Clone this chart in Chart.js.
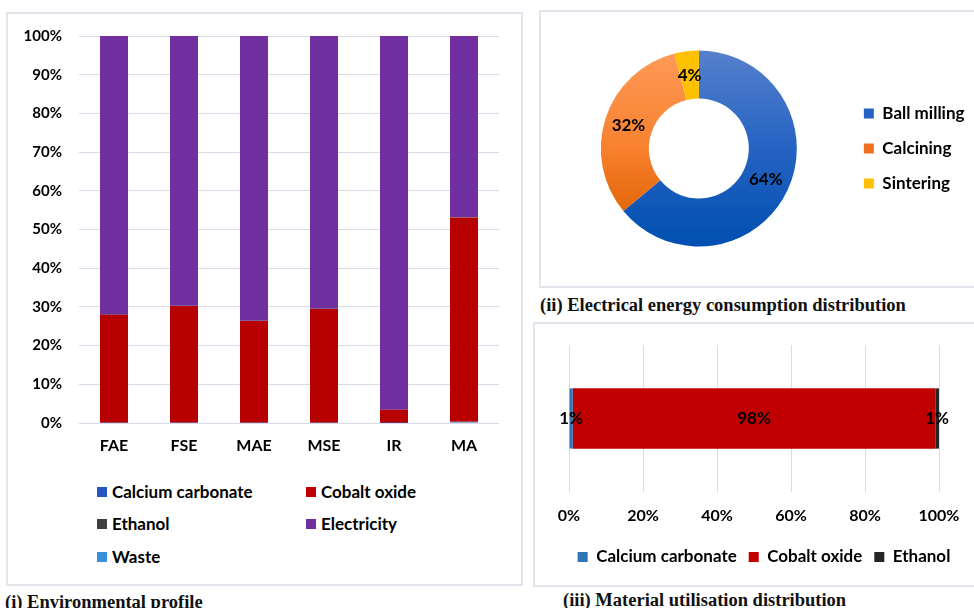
<!DOCTYPE html>
<html>
<head>
<meta charset="utf-8">
<script src="https://cdn.jsdelivr.net/npm/chart.js@4.4.1/dist/chart.umd.min.js"></script>
<style>
  html, body { margin: 0; padding: 0; background: #fff; }
  body { width: 974px; height: 608px; position: relative; overflow: hidden; font-family: Lato, sans-serif; }
  .panel { position: absolute; border: 2px solid #e2e5eb; box-sizing: border-box; }
  canvas { position: absolute; }
  .cap { position: absolute; font-family: 'Liberation Serif', serif; font-weight: bold; font-size: 18.5px;
         color: #111; white-space: nowrap; line-height: 20px; }
  .lg { position: absolute; display: flex; align-items: center; height: 20px; line-height: 20px;
        font-weight: bold; font-size: 17px; color: #000; white-space: nowrap; }
  .lg i { display: inline-block; width: 10px; height: 10px; margin-right: 5px; }
</style>
</head>
<body>
<div class="panel" style="left:6px;top:12px;width:517px;height:574px;"></div>
<div class="panel" style="left:539px;top:10px;width:460px;height:278px;"></div>
<div class="panel" style="left:533px;top:322px;width:460px;height:265px;"></div>

<canvas id="env" width="513" height="464" style="left:8px;top:10px;"></canvas>
<div id="envLegend"></div>
<canvas id="energy" width="439" height="273" style="left:541px;top:12px;"></canvas>
<canvas id="mat" width="439" height="261" style="left:535px;top:324px;"></canvas>

<div class="cap" style="left:5px;top:592px;">(i) Environmental profile</div>
<div class="cap" style="left:540px;top:295px;">(ii) Electrical energy consumption distribution</div>
<div class="cap" style="left:563px;top:590px;">(iii) Material utilisation distribution</div>

<script>
// ---- (i) Environmental profile: share of impact per scenario ----
const envCategories = ['FAE', 'FSE', 'MAE', 'MSE', 'IR', 'MA'];
const envCalciumCarbonate = [0.05, 0.05, 0.05, 0.05, 0.02, 0.3];
const envCobaltOxide = [27.9, 30.2, 26.3, 29.4, 3.4, 52.8];
const envEthanol = [0.05, 0.05, 0.05, 0.05, 0.02, 0.1];
const envElectricity = [72.0, 69.7, 73.6, 70.5, 96.56, 46.8];
const envWaste = [0, 0, 0, 0, 0, 0];
const envSeriesNames = ['Calcium carbonate', 'Cobalt oxide', 'Ethanol', 'Electricity', 'Waste'];
const envColors = ['#2458c0', '#b70000', '#404040', '#7030a0', '#3a8fdc'];
const envLegendColors = ['#2458c0', '#c00000', '#404040', '#7030a0', '#3a8fdc'];
const envTickStep = 10;

// ---- (ii) Electrical energy consumption per process step ----
const energyStages = ['Ball milling', 'Calcining', 'Sintering'];
const energyShares = [64, 32, 4];
const energyKeyColors = ['#2563c2', '#f07020', '#ffc000'];

// ---- (iii) Material utilisation ----
const materialNames = ['Calcium carbonate', 'Cobalt oxide', 'Ethanol'];
const materialShares = [1, 98, 1];
const materialColors = ['#2e75b6', '#c00000', '#262626'];
const materialTickStep = 20;

Chart.defaults.font.family = 'Lato, sans-serif';
Chart.defaults.font.weight = 'bold';
Chart.defaults.color = '#000';

const pct = v => v + '%';

// Stacked columns
new Chart(document.getElementById('env'), {
  type: 'bar',
  data: {
    labels: envCategories,
    datasets: [envCalciumCarbonate, envCobaltOxide, envEthanol, envElectricity, envWaste].map((d, i) => ({
      label: envSeriesNames[i], data: d, backgroundColor: envColors[i], borderWidth: 0
    }))
  },
  options: {
    responsive: false, animation: false,
    layout: { padding: { left: 16, right: 22, top: 0, bottom: 11 } },
    datasets: { bar: { categoryPercentage: 0.8, barPercentage: 0.5 } },
    plugins: { legend: { display: false }, tooltip: { enabled: false } },
    scales: {
      x: {
        stacked: true,
        grid: { display: false }, border: { display: false },
        ticks: { padding: 5, color: '#000', font: { size: 16, weight: 'bold' } },
        afterFit: s => { s.height = 40; }
      },
      y: {
        stacked: true, min: 0, max: 100,
        ticks: { stepSize: envTickStep, callback: pct, padding: 17, color: '#000', font: { size: 15, weight: 'bold' } },
        grid: { color: '#d9dbe8', drawTicks: false }, border: { display: false },
        afterFit: s => { s.width = 55; }
      }
    }
  }
});

// Two-column legend under the stacked columns
const envLegend = document.getElementById('envLegend');
envSeriesNames.forEach((name, i) => {
  const el = document.createElement('div');
  el.className = 'lg';
  el.style.left = (97 + (i % 2) * 209) + 'px';
  el.style.top = (481.5 + Math.floor(i / 2) * 32.5) + 'px';
  el.innerHTML = '<i style="background:' + envLegendColors[i] + '"></i>' + name;
  envLegend.appendChild(el);
});

// Value labels at the middle of each doughnut segment
const arcValueLabels = {
  id: 'arcValueLabels',
  afterDatasetsDraw(chart) {
    const ctx = chart.ctx;
    const meta = chart.getDatasetMeta(0);
    ctx.save();
    ctx.font = 'bold 17px Lato, sans-serif';
    ctx.fillStyle = '#000';
    ctx.textAlign = 'center';
    ctx.textBaseline = 'middle';
    meta.data.forEach((arc, i) => {
      const p = arc.tooltipPosition();
      ctx.fillText(pct(chart.data.datasets[0].data[i]), p.x, p.y);
    });
    ctx.restore();
  }
};

// Vertical shading for the doughnut slices
const energyGradientStops = [
  [[0, '#5580cc'], [0.5, '#2563c2'], [1, '#004fb0']],
  [[0, '#ff9a58'], [0.5, '#f7812e'], [0.85, '#e26406'], [1, '#de5f00']],
  null
];
function energyFill(c) {
  const i = c.dataIndex;
  const stops = energyGradientStops[i];
  const area = c.chart.chartArea;
  if (!stops || !area) return energyKeyColors[i];
  const g = c.chart.ctx.createLinearGradient(0, area.top, 0, area.bottom);
  stops.forEach(s => g.addColorStop(s[0], s[1]));
  return g;
}

new Chart(document.getElementById('energy'), {
  type: 'doughnut',
  data: {
    labels: energyStages,
    datasets: [{ data: energyShares, backgroundColor: energyFill, borderWidth: 0 }]
  },
  options: {
    responsive: false, animation: false, cutout: '51%',
    layout: { padding: { left: 10.8, right: 5.5, top: 38.5, bottom: 38.5 } },
    plugins: {
      legend: {
        position: 'right',
        labels: {
          boxWidth: 10, boxHeight: 10, padding: 18, color: '#000', font: { size: 17, weight: 'bold' },
          generateLabels: (chart) => chart.data.labels.map((t, i) => ({
            text: t, fillStyle: energyKeyColors[i], strokeStyle: 'rgba(0,0,0,0)', lineWidth: 0, index: i
          }))
        }
      },
      tooltip: { enabled: false }
    }
  },
  plugins: [arcValueLabels]
});

// Value labels centred on each stacked segment
const barValueLabels = {
  id: 'barValueLabels',
  afterDatasetsDraw(chart) {
    const ctx = chart.ctx;
    ctx.save();
    ctx.font = 'bold 17px Lato, sans-serif';
    ctx.fillStyle = '#000';
    ctx.textAlign = 'center';
    ctx.textBaseline = 'middle';
    chart.data.datasets.forEach((ds, di) => {
      chart.getDatasetMeta(di).data.forEach((bar, j) => {
        const p = bar.getCenterPoint();
        ctx.fillText(pct(ds.data[j]), p.x, p.y);
      });
    });
    ctx.restore();
  }
};

const hiddenSide = (w) => ({
  grid: { display: false }, border: { display: false }, ticks: { display: false },
  afterFit: s => { s.width = w; }
});

new Chart(document.getElementById('mat'), {
  type: 'bar',
  data: {
    labels: ['Materials'],
    datasets: materialNames.map((n, i) => ({
      label: n, data: [materialShares[i]], backgroundColor: materialColors[i], borderWidth: 0
    }))
  },
  options: {
    indexAxis: 'y', responsive: false, animation: false,
    layout: { padding: { left: 19, right: 0, top: 21, bottom: 9.5 } },
    datasets: { bar: { categoryPercentage: 0.82, barPercentage: 0.5 } },
    plugins: {
      legend: {
        position: 'bottom',
        labels: { boxWidth: 10, boxHeight: 10, padding: 12, color: '#000', font: { size: 17, weight: 'bold' } }
      },
      tooltip: { enabled: false }
    },
    scales: {
      x: {
        stacked: true, min: 0, max: 100,
        ticks: { stepSize: materialTickStep, callback: pct, padding: 14, color: '#000', font: { size: 16, weight: 'bold' } },
        grid: { color: '#d9dde6', drawTicks: false }, border: { display: false },
        afterFit: s => { s.height = 44.5; }
      },
      y: Object.assign({ stacked: true, position: 'left' }, hiddenSide(15)),
      yRight: Object.assign({ axis: 'y', type: 'category', position: 'right' }, hiddenSide(35))
    }
  },
  plugins: [barValueLabels]
});
</script>
</body>
</html>
